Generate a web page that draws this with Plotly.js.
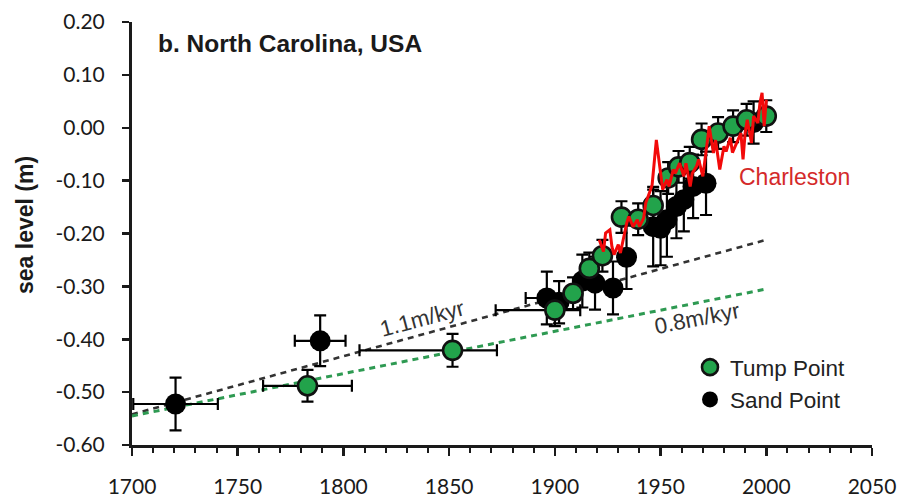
<!DOCTYPE html>
<html>
<head>
<meta charset="utf-8">
<script src="https://cdn.plot.ly/plotly-3.0.1.min.js"></script>
<style>
  html, body { margin: 0; padding: 0; background: #ffffff; }
  #chart { width: 899px; height: 498px; }
</style>
</head>
<body>
<div id="chart"></div>
<script>
// Tump Point salt-marsh reconstruction (year AD, sea level in m, uncertainties)
const tumpYears   = [1783, 1851.6, 1900, 1908.6, 1916.3, 1922.5, 1931.5, 1939.4, 1946.5, 1953.6, 1958.5, 1963.8, 1969.4, 1977.2, 1984.3, 1990.7, 2000];
const tumpLevel   = [-0.488, -0.421, -0.345, -0.313, -0.266, -0.242, -0.169, -0.173, -0.147, -0.095, -0.074, -0.066, -0.022, -0.010, 0.003, 0.015, 0.022];
const tumpErrY    = [0.03, 0.031, 0.03, 0.03, 0.03, 0.03, 0.03, 0.03, 0.03, 0.03, 0.03, 0.03, 0.03, 0.03, 0.03, 0.03, 0.03];
const tumpErrXPlus  = [21, 21, 12, 0, 0, 0, 0, 0, 0, 0, 0, 0, 0, 0, 0, 0, 0];
const tumpErrXMinus = [21, 44, 28, 0, 0, 0, 0, 0, 0, 0, 0, 0, 0, 0, 0, 0, 0];

// Sand Point salt-marsh reconstruction
const sandYears = [1720.6, 1789, 1896.2, 1902, 1913, 1919, 1927.5, 1933.9, 1946.5, 1950, 1953, 1957.5, 1961, 1965.4, 1971.5, 1994];
const sandLevel = [-0.5225, -0.403, -0.322, -0.33, -0.29, -0.294, -0.303, -0.245, -0.187, -0.19, -0.174, -0.149, -0.136, -0.111, -0.105, 0.01];
const sandErrY  = [0.05, 0.048, 0.05, 0.04, 0.05, 0.05, 0.05, 0.06, 0.075, 0.07, 0.07, 0.06, 0.06, 0.06, 0.06, 0.04];
const sandErrX  = [20, 12, 10, 0, 0, 0, 0, 0, 0, 0, 0, 0, 0, 0, 0, 0];

// Charleston tide-gauge annual means
const charYears = [1921, 1923, 1924, 1926, 1927, 1928, 1930, 1931, 1933, 1934, 1935, 1937, 1939, 1940, 1942, 1943, 1945, 1946, 1948, 1950,
                   1951, 1953, 1954, 1956, 1957, 1959, 1961, 1962, 1964, 1965, 1967, 1968, 1970, 1972, 1973, 1975, 1976, 1978, 1980, 1981,
                   1983, 1984, 1986, 1988, 1989, 1990, 1991, 1993, 1994, 1996, 1997, 1998, 1999, 2000];
const charLevel = [-0.212, -0.234, -0.199, -0.193, -0.225, -0.240, -0.221, -0.237, -0.199, -0.180, -0.168, -0.187, -0.174, -0.187, -0.171, -0.142, -0.120, -0.108, -0.023, -0.086,
                   -0.117, -0.098, -0.111, -0.079, -0.086, -0.067, -0.092, -0.067, -0.111, -0.086, -0.073, -0.060, -0.092, -0.029, 0.003, -0.048, -0.023, -0.079, -0.035, -0.045,
                   -0.019, -0.047, -0.029, -0.010, -0.060, -0.010, 0.015, -0.029, 0.022, 0.009, 0.047, 0.066, 0.003, 0.053];

// Linear background trends (m/kyr) anchored at their value in 2000
const trendLabels = ['1.1m/kyr', '0.8m/kyr'];
const trendRates  = [1.1, 0.8];
const trendAt2000 = [-0.212, -0.305];
const trendYears  = [1700, 2000];

// Axis ticks
const yTickVals = [-0.6, -0.5, -0.4, -0.3, -0.2, -0.1, 0.0, 0.1, 0.2];
const yTickText = ['-0.60', '-0.50', '-0.40', '-0.30', '-0.20', '-0.10', '0.00', '0.10', '0.20'];
const xTickVals = [1700, 1750, 1800, 1850, 1900, 1950, 2000, 2050];
const xTickText = ['1700', '1750', '1800', '1850', '1900', '1950', '2000', '2050'];

const trendLine = (k) => trendYears.map(yr => trendAt2000[k] - trendRates[k] / 1000 * (2000 - yr));

const AXIS = '#1a1a1a';
const GREEN = '#22a34b';
const sans = 'Liberation Sans, Arial, sans-serif';
const tickFont = { family: 'Lato, Carlito, sans-serif', size: 21, color: '#1a1a1a' };

const traces = [
  { x: trendYears, y: trendLine(0), mode: 'lines', showlegend: false, hoverinfo: 'skip',
    line: { color: '#333333', width: 2.6, dash: '6px,5px' } },
  { x: trendYears, y: trendLine(1), mode: 'lines', showlegend: false, hoverinfo: 'skip',
    line: { color: '#2e9a52', width: 3, dash: '6px,5px' } },
  { x: sandYears, y: sandLevel, name: 'Sand Point', mode: 'markers', type: 'scatter',
    marker: { color: '#000000', size: 21, line: { color: '#000000', width: 0 } },
    error_y: { type: 'data', array: sandErrY, visible: true, color: '#000000', thickness: 2.2, width: 6 },
    error_x: { type: 'data', array: sandErrX, visible: true, color: '#000000', thickness: 2.2, width: 6 } },
  { x: tumpYears, y: tumpLevel, name: 'Tump Point', mode: 'markers', type: 'scatter',
    marker: { color: GREEN, size: 19, line: { color: '#111111', width: 2.6 } },
    error_y: { type: 'data', array: tumpErrY, visible: true, color: '#000000', thickness: 2.2, width: 6 },
    error_x: { type: 'data', symmetric: false, array: tumpErrXPlus, arrayminus: tumpErrXMinus, visible: true, color: '#000000', thickness: 2.2, width: 6 } },
  { x: charYears, y: charLevel, name: 'Charleston', mode: 'lines', showlegend: false,
    line: { color: '#f20a0a', width: 3 } }
];

// Plot area spans 132..872 px horizontally and 22..445 px vertically
const L = 132, R = 27, T = 22, B = 53;
const pxX = (px) => (px - L) / (899 - L - R);
const pxY = (py) => (498 - B - py) / (498 - T - B);

const layout = {
  width: 899, height: 498,
  margin: { l: L, r: R, t: T, b: B, pad: 0 },
  paper_bgcolor: '#ffffff', plot_bgcolor: '#ffffff',
  showlegend: true,
  title: { text: '<b>b. North Carolina, USA</b>', x: 158 / 899, xref: 'container', xanchor: 'left',
           y: 1 - 43 / 498, yref: 'container', yanchor: 'middle',
           font: { family: sans, size: 24.5, color: '#1a1a1a' } },
  xaxis: {
    range: [1700, 2050], showgrid: false, zeroline: false, fixedrange: true,
    showline: true, linecolor: AXIS, linewidth: 3,
    tickmode: 'array', tickvals: xTickVals, ticktext: xTickText,
    ticks: 'outside', ticklen: 8, tickwidth: 2.5, tickcolor: AXIS,
    ticklabelstandoff: 13, tickfont: tickFont,
    minor: { tick0: 1700, dtick: 10, ticks: 'outside', ticklen: 5, tickwidth: 2, tickcolor: AXIS }
  },
  yaxis: {
    range: [-0.6, 0.2], showgrid: false, zeroline: false, fixedrange: true,
    showline: true, linecolor: AXIS, linewidth: 3,
    tickmode: 'array', tickvals: yTickVals, ticktext: yTickText,
    ticks: 'outside', ticklen: 7, tickwidth: 2.5, tickcolor: AXIS,
    ticklabelstandoff: 13, tickfont: tickFont
  },
  legend: {
    x: pxX(690), y: pxY(346), xanchor: 'left', yanchor: 'top',
    traceorder: 'reversed', bgcolor: 'rgba(0,0,0,0)', borderwidth: 0,
    font: { family: sans, size: 22.5, color: '#222222' }
  },
  annotations: [
    { text: 'sea level (m)', xref: 'paper', yref: 'paper', x: pxX(25), y: pxY(225),
      xanchor: 'center', yanchor: 'middle',
      textangle: -90, showarrow: false, font: { family: sans, size: 23, color: '#1a1a1a', weight: 'bold' } },
    { text: trendLabels[0], x: 1837.5, y: -0.36, textangle: -15, showarrow: false,
      font: { family: sans, size: 22.5, color: '#333333' } },
    { text: trendLabels[1], x: 1967.4, y: -0.3615, textangle: -11, showarrow: false,
      font: { family: sans, size: 22.5, color: '#333333' } },
    { text: 'Charleston', x: 2013.5, y: -0.0926, showarrow: false,
      font: { family: sans, size: 23, color: '#d42a2a' } }
  ]
};

Plotly.newPlot('chart', traces, layout, { displayModeBar: false, staticPlot: true });
</script>
</body>
</html>
